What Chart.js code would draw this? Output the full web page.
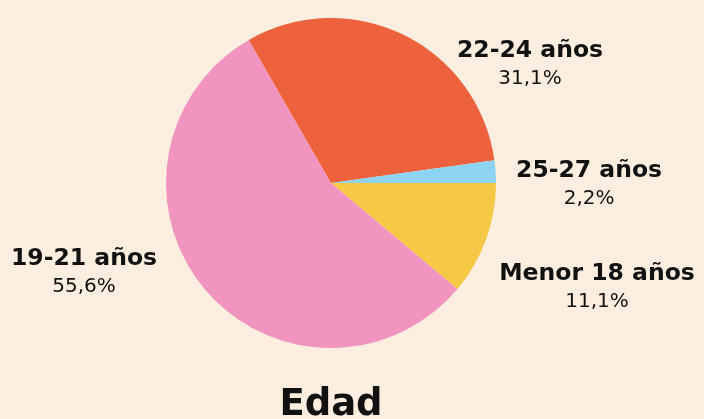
<!DOCTYPE html>
<html>
<head>
<meta charset="utf-8">
<script src="https://cdn.jsdelivr.net/npm/chart.js@4"></script>
<style>
  html, body { margin: 0; padding: 0; background: #FDEEDF; }
  #wrap { width: 704px; height: 419px; position: relative; }
</style>
</head>
<body>
<div id="wrap"><canvas id="chart"></canvas></div>
<script>
// datos: grupos de edad y porcentajes
const categorias = ['Menor 18 años', '19-21 años', '22-24 años', '25-27 años'];
const porcentajes = [11.1, 55.6, 31.1, 2.2];
const colores = ['#F5C945', '#F195C0', '#EE613D', '#8ED3F1'];
const titulo = 'Edad';

// posicion de cada etiqueta respecto al centro de la torta (en radios)
const etiquetaPos = [
  { dx: 1.612, dy: 0.588 },
  { dx: -1.497, dy: 0.497 },
  { dx: 1.206, dy: -0.764 },
  { dx: 1.564, dy: -0.036 },
];

const fmt = v => v.toFixed(1).replace('.', ',') + '%';

const etiquetas = {
  id: 'etiquetas',
  afterDraw(chart) {
    const ctx = chart.ctx;
    const arc = chart.getDatasetMeta(0).data[0];
    const cx = arc.x, cy = arc.y, r = arc.outerRadius;
    ctx.save();
    ctx.fillStyle = '#111';
    ctx.textAlign = 'center';
    ctx.textBaseline = 'alphabetic';
    categorias.forEach((cat, i) => {
      const p = etiquetaPos[i];
      const x = cx + p.dx * r, y = cy + p.dy * r;
      ctx.font = 'bold 23.5px "DejaVu Sans"';
      ctx.fillText(cat, x, y);
      ctx.font = '20px "DejaVu Sans"';
      ctx.fillText(fmt(porcentajes[i]), x, y + 27);
    });
    ctx.font = 'bold 37px "DejaVu Sans"';
    ctx.fillText(titulo, cx, chart.height - 4);
    ctx.restore();
  }
};

new Chart(document.getElementById('chart'), {
  type: 'pie',
  data: {
    labels: categorias,
    datasets: [{
      data: porcentajes,
      backgroundColor: colores,
      borderWidth: 0,
    }],
  },
  options: {
    responsive: true,
    maintainAspectRatio: false,
    animation: false,
    rotation: 90,
    layout: { padding: { top: 18, bottom: 71, left: 166, right: 208 } },
    plugins: {
      legend: { display: false },
      tooltip: { enabled: false },
    },
  },
  plugins: [etiquetas],
});
</script>
</body>
</html>
